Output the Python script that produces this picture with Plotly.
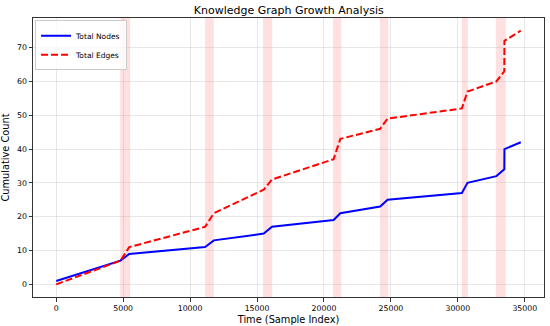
import plotly.graph_objects as go

# Data
time_idx = [0, 4800, 5450, 11120, 11770, 15500, 16120, 20720, 21220, 24200, 24750,
            30300, 30720, 32880, 33470, 33480, 34700]
total_nodes = [1, 7, 9, 11, 13, 15, 17, 19, 21, 23, 25, 27, 30, 32, 34, 40, 42]
total_edges = [0, 7, 11, 17, 21, 28, 31, 37, 43, 46, 49, 52, 57, 60, 63, 72, 75]

span_starts = [4780, 11120, 15450, 20670, 24180, 30300, 32840]
span_ends = [5520, 11770, 16140, 21290, 24800, 30750, 33580]

x_ticks = [0, 5000, 10000, 15000, 20000, 25000, 30000, 35000]
x_tick_labels = ["0", "5000", "10000", "15000", "20000", "25000", "30000", "35000"]
y_ticks = [0, 10, 20, 30, 40, 50, 60, 70]
y_tick_labels = ["0", "10", "20", "30", "40", "50", "60", "70"]

FONT = "DejaVu Sans"

fig = go.Figure()

fig.add_trace(go.Scatter(
    x=time_idx, y=total_nodes, mode="lines", name="Total Nodes",
    line=dict(color="#0000ff", width=2)))
fig.add_trace(go.Scatter(
    x=time_idx, y=total_edges, mode="lines", name="Total Edges",
    line=dict(color="#ff0000", width=2, dash="7px,3px")))

for s, e in zip(span_starts, span_ends):
    fig.add_vrect(x0=s, x1=e, fillcolor="rgba(255,0,0,0.12)", line_width=0, layer="below")

axis_common = dict(
    showline=True, linecolor="#333333", linewidth=1, mirror=True,
    ticks="outside", ticklen=3.5, tickcolor="#333333", tickwidth=1,
    showgrid=True, gridcolor="rgba(176,176,176,0.3)", gridwidth=1,
    zeroline=False, tickfont=dict(family=FONT, size=7.8, color="#000000"),
    automargin=False,
)

fig.update_xaxes(range=[-1735, 36435], tickvals=x_ticks, ticktext=x_tick_labels,
                 title=dict(text="Time (Sample Index)", font=dict(family=FONT, size=9.8, color="#000"), standoff=4),
                 **axis_common)
fig.update_yaxes(range=[-3.75, 78.75], tickvals=y_ticks, ticktext=y_tick_labels,
                 title=dict(text="Cumulative Count", font=dict(family=FONT, size=9.8, color="#000"), standoff=7),
                 **axis_common)

fig.update_layout(
    width=550, height=326,
    margin=dict(l=33, r=6, t=18, b=29),
    paper_bgcolor="white", plot_bgcolor="white",
    title=dict(text="Knowledge Graph Growth Analysis", x=0.525, xanchor="center",
               y=0.968, yanchor="middle",
               font=dict(family=FONT, size=11, color="#000")),
    legend=dict(x=0.004, y=0.992, xanchor="left", yanchor="top",
                bgcolor="rgba(255,255,255,0.8)", bordercolor="#cccccc", borderwidth=1,
                font=dict(family=FONT, size=7.5, color="#000"),
                tracegroupgap=0, itemwidth=30),
    showlegend=True,
)

fig.write_html("out.html", config={"displayModeBar": False},
               post_script="document.body.style.margin='0';document.body.style.overflow='hidden';")
